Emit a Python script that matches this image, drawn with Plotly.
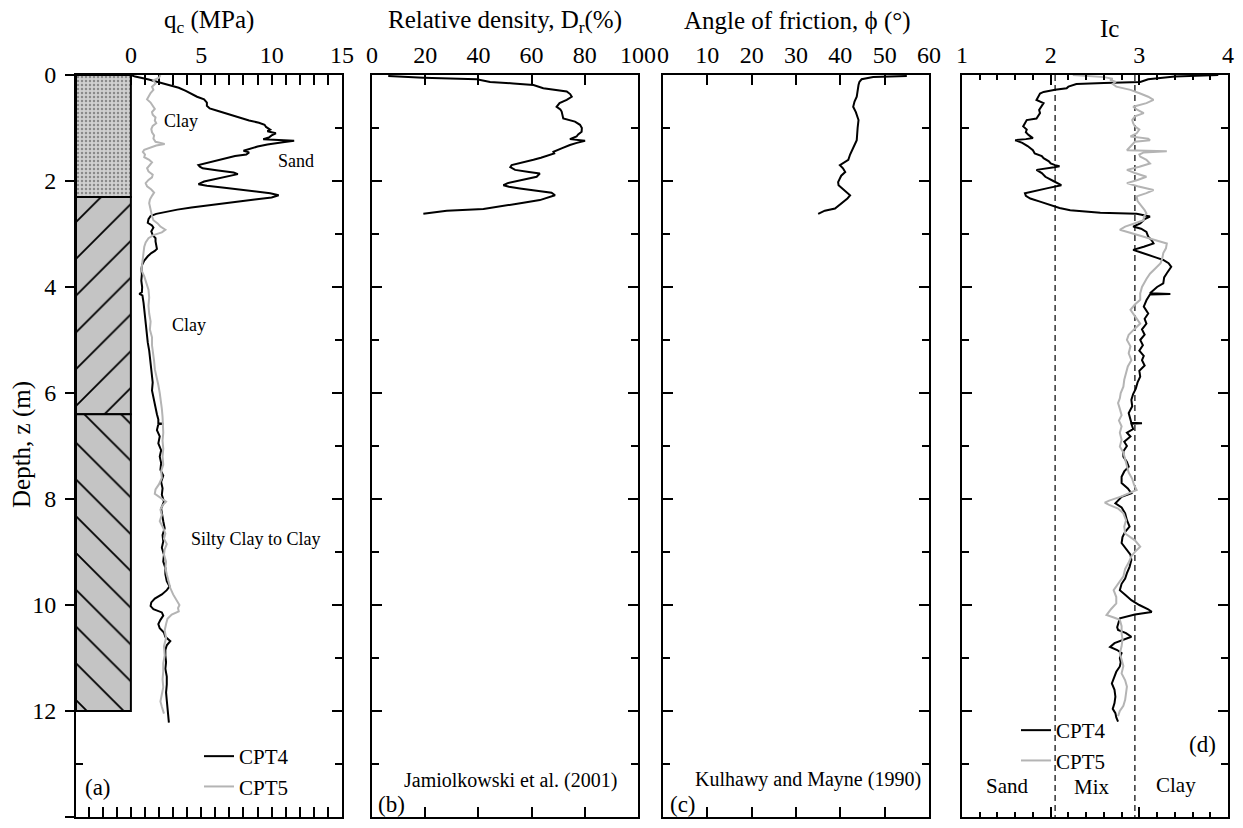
import plotly.graph_objects as go

# ---------------- data ----------------
# soil column (panel a)
layer_top = [0.0, 2.3, 6.4]
layer_bottom = [2.3, 6.4, 12.0]
layer_pattern = [".", "/", "\\"]

# panel a : cone resistance qc (MPa)
cpt4_qc_depth = [0.00, 0.03, 0.08, 0.13, 0.18, 0.24, 0.30, 0.36, 0.41, 0.46, 0.52, 0.58, 0.63, 0.68, 0.72, 0.77, 0.82, 0.86, 0.90, 0.94,
                 0.98, 1.03, 1.06, 1.10, 1.14, 1.18, 1.21, 1.23, 1.24, 1.27, 1.31, 1.35, 1.40, 1.43, 1.46, 1.50, 1.53, 1.57, 1.62, 1.67,
                 1.70, 1.73, 1.76, 1.80, 1.84, 1.87, 1.91, 1.96, 2.01, 2.06, 2.09, 2.13, 2.18, 2.23, 2.27, 2.31, 2.35, 2.40, 2.45, 2.50,
                 2.54, 2.58, 2.62, 2.66, 2.72, 2.79, 2.84, 2.88, 2.95, 3.02, 3.08, 3.14, 3.22, 3.28, 3.32, 3.36, 3.42, 3.50, 3.58, 3.66,
                 3.76, 3.88, 4.00, 4.10, 4.13, 4.16, 4.30, 4.45, 4.60, 4.75, 4.90, 5.05, 5.20, 5.35, 5.50, 5.65, 5.80, 5.95, 6.10, 6.25,
                 6.40, 6.50, 6.57, 6.58, 6.59, 6.70, 6.82, 6.95, 7.08, 7.20, 7.32, 7.45, 7.56, 7.68, 7.80, 7.92, 8.05, 8.18, 8.30, 8.42,
                 8.55, 8.68, 8.80, 8.92, 9.05, 9.18, 9.30, 9.42, 9.55, 9.65, 9.72, 9.80, 9.88, 9.95, 10.02, 10.08, 10.14, 10.20, 10.28, 10.36,
                 10.44, 10.52, 10.60, 10.68, 10.76, 10.85, 10.95, 11.08, 11.20, 11.35, 11.50, 11.65, 11.80, 11.95, 12.10, 12.22]
cpt4_qc = [0.0, 0.3, 1.2, 1.9, 2.6, 3.4, 3.9, 4.3, 4.7, 5.2, 5.4, 5.4, 5.6, 6.2, 6.7, 7.3, 7.8, 8.4, 9.1, 9.5,
           9.6, 9.9, 9.7, 10.3, 10.0, 9.8, 9.4, 10.5, 11.6, 10.8, 9.7, 9.0, 8.4, 8.0, 8.4, 8.2, 7.4, 6.8, 6.0, 5.2,
           4.8, 4.9, 5.1, 6.2, 7.3, 7.6, 6.9, 6.0, 5.2, 4.8, 5.4, 6.8, 8.6, 9.9, 10.5, 10.0, 8.8, 7.2, 5.8, 4.3,
           3.3, 2.6, 1.8, 1.4, 1.25, 1.2, 1.5, 1.6, 1.45, 1.55, 1.75, 1.75, 1.8, 1.85, 1.7, 1.45, 1.2, 0.95, 0.8, 0.75,
           0.78, 0.74, 0.8, 0.78, 0.6, 0.82, 0.9, 0.95, 1.0, 1.05, 1.15, 1.2, 1.3, 1.35, 1.45, 1.45, 1.55, 1.5, 1.6, 1.7,
           1.85, 1.95, 1.95, 2.3, 1.95, 1.85, 2.05, 1.95, 2.15, 2.05, 2.15, 2.1, 2.3, 2.15, 2.25, 2.2, 2.35, 2.15, 2.25, 2.3,
           2.4, 2.25, 2.3, 2.2, 2.35, 2.3, 2.45, 2.45, 2.55, 2.75, 2.55, 2.2, 1.7, 1.45, 1.4, 1.6, 2.2, 2.3, 2.1, 1.95,
           2.05, 2.35, 2.45, 2.8, 2.55, 2.45, 2.45, 2.5, 2.45, 2.55, 2.55, 2.5, 2.55, 2.6, 2.65, 2.7]

cpt5_qc_depth = [0.00, 0.05, 0.10, 0.16, 0.22, 0.28, 0.34, 0.40, 0.46, 0.52, 0.58, 0.64, 0.70, 0.75, 0.80, 0.86, 0.91, 0.96, 1.02, 1.08,
                 1.14, 1.20, 1.26, 1.30, 1.33, 1.37, 1.41, 1.45, 1.50, 1.55, 1.60, 1.65, 1.70, 1.76, 1.82, 1.88, 1.93, 1.98, 2.04, 2.10,
                 2.16, 2.22, 2.28, 2.35, 2.42, 2.50, 2.58, 2.66, 2.74, 2.80, 2.86, 2.92, 2.97, 3.02, 3.08, 3.16, 3.24, 3.35, 3.45, 3.56,
                 3.68, 3.80, 3.92, 4.05, 4.20, 4.35, 4.50, 4.65, 4.80, 4.95, 5.10, 5.25, 5.40, 5.55, 5.70, 5.85, 6.00, 6.15, 6.30, 6.45,
                 6.60, 6.75, 6.90, 7.05, 7.20, 7.35, 7.48, 7.60, 7.72, 7.82, 7.90, 7.97, 8.05, 8.12, 8.20, 8.30, 8.42, 8.55, 8.65, 8.75,
                 8.85, 8.95, 9.05, 9.18, 9.30, 9.42, 9.55, 9.68, 9.80, 9.90, 10.00, 10.06, 10.12, 10.18, 10.26, 10.36, 10.48, 10.62, 10.78, 10.95,
                 11.10, 11.25, 11.40, 11.55, 11.70, 11.82, 11.92, 12.05]
cpt5_qc = [2.1, 2.0, 1.6, 1.75, 1.5, 1.6, 1.4, 1.3, 1.15, 1.4, 1.55, 1.7, 1.5, 1.55, 1.75, 1.7, 1.8, 1.55, 1.45, 1.5,
           1.65, 1.6, 1.75, 2.4, 1.8, 1.3, 0.95, 0.85, 1.0, 0.95, 1.3, 1.5, 1.35, 1.15, 1.25, 1.55, 1.5, 1.25, 1.05, 1.15,
           1.45, 1.65, 1.5, 1.35, 1.3, 1.35, 1.45, 1.5, 1.6, 1.9, 2.1, 2.45, 2.2, 1.6, 1.25, 1.05, 0.95, 0.9, 0.85, 0.8,
           0.75, 0.95, 1.1, 1.25, 1.3, 1.25, 1.3, 1.4, 1.35, 1.5, 1.5, 1.6, 1.65, 1.7, 1.85, 1.95, 2.05, 2.15, 2.2, 2.25,
           2.3, 2.3, 2.25, 2.3, 2.25, 2.3, 2.15, 2.2, 2.0, 1.75, 1.7, 2.05, 2.5, 2.25, 2.1, 2.2, 2.05, 2.3, 2.45, 2.35,
           2.55, 2.4, 2.35, 2.5, 2.45, 2.55, 2.65, 2.8, 3.0, 3.2, 3.45, 3.35, 3.4, 2.9, 2.6, 2.5, 2.4, 2.5, 2.35, 2.4,
           2.3, 2.3, 2.25, 2.3, 2.2, 2.1, 2.2, 2.35]

# panel b : relative density Dr (%)
dr_depth = [0.02, 0.05, 0.08, 0.13, 0.16, 0.19, 0.25, 0.28, 0.31, 0.36, 0.41, 0.47, 0.53, 0.60, 0.65, 0.69, 0.76, 0.82, 0.88, 0.94,
            1.00, 1.07, 1.12, 1.16, 1.21, 1.24, 1.28, 1.32, 1.38, 1.45, 1.48, 1.51, 1.56, 1.60, 1.65, 1.70, 1.74, 1.79, 1.83, 1.86,
            1.92, 1.98, 2.04, 2.08, 2.11, 2.14, 2.18, 2.22, 2.27, 2.31, 2.36, 2.41, 2.46, 2.53, 2.56, 2.62]
dr_values = [6.1, 19.3, 39.4, 44.4, 53.1, 60.7, 64.4, 69.4, 73.2, 74.5, 75.1, 73.2, 70.5, 69.4, 70.8, 71.3, 71.5, 71.9, 76.3, 78.2,
             78.9, 78.8, 77.5, 76.9, 74.4, 80.1, 77.0, 74.4, 71.5, 68.2, 68.5, 66.9, 63.5, 60.7, 56.5, 52.5, 52.0, 53.8, 59.0, 63.1,
             61.9, 56.0, 51.0, 49.4, 51.5, 55.6, 62.0, 67.5, 68.8, 66.5, 63.1, 56.9, 50.0, 41.9, 28.1, 19.3]

# panel c : friction angle (deg)
phi_depth = [0.02, 0.04, 0.08, 0.13, 0.19, 0.30, 0.41, 0.50, 0.60, 0.70, 0.85, 1.00, 1.12, 1.23, 1.32, 1.42, 1.50, 1.60, 1.66, 1.70,
             1.76, 1.83, 1.90, 1.95, 2.02, 2.08, 2.14, 2.20, 2.27, 2.33, 2.39, 2.46, 2.52, 2.56, 2.62]
phi_values = [55.0, 47.4, 44.8, 44.3, 44.1, 43.9, 43.7, 43.2, 42.9, 43.5, 44.1, 43.9, 43.8, 43.7, 43.2, 42.6, 42.2, 41.8, 40.8, 39.9,
              40.6, 41.1, 40.2, 39.9, 39.5, 39.6, 40.5, 41.4, 42.2, 41.6, 40.7, 39.7, 38.8, 36.5, 35.0]

# panel d : soil behaviour type index Ic
cpt4_ic_depth = [0.00, 0.03, 0.08, 0.13, 0.15, 0.17, 0.22, 0.25, 0.28, 0.32, 0.35, 0.41, 0.47, 0.53, 0.60, 0.66, 0.72, 0.78, 0.82, 0.85,
                 0.91, 0.97, 1.03, 1.08, 1.13, 1.19, 1.21, 1.23, 1.28, 1.34, 1.42, 1.48, 1.53, 1.57, 1.63, 1.67, 1.70, 1.72, 1.74, 1.79,
                 1.85, 1.92, 2.00, 2.08, 2.13, 2.17, 2.23, 2.28, 2.33, 2.39, 2.45, 2.51, 2.55, 2.58, 2.60, 2.62, 2.67, 2.72, 2.80, 2.86,
                 2.90, 2.96, 3.05, 3.12, 3.18, 3.24, 3.30, 3.35, 3.40, 3.45, 3.49, 3.55, 3.62, 3.68, 3.74, 3.82, 3.93, 4.00, 4.06, 4.12,
                 4.13, 4.14, 4.25, 4.37, 4.50, 4.60, 4.69, 4.80, 4.90, 5.00, 5.10, 5.20, 5.30, 5.38, 5.48, 5.58, 5.69, 5.80, 5.92, 6.02,
                 6.13, 6.25, 6.38, 6.50, 6.56, 6.57, 6.58, 6.68, 6.75, 6.82, 6.92, 7.00, 7.10, 7.20, 7.30, 7.39, 7.48, 7.58, 7.70, 7.80,
                 7.89, 7.96, 8.02, 8.08, 8.16, 8.27, 8.40, 8.52, 8.62, 8.72, 8.83, 8.95, 9.05, 9.15, 9.28, 9.40, 9.50, 9.60, 9.72, 9.82,
                 9.91, 10.00, 10.08, 10.13, 10.18, 10.25, 10.35, 10.42, 10.47, 10.53, 10.60, 10.66, 10.72, 10.79, 10.85, 10.91, 11.00, 11.08, 11.16, 11.26,
                 11.36, 11.48, 11.60, 11.73, 11.85, 11.96, 12.04, 12.12, 12.20]
cpt4_ic = [3.89, 3.40, 3.10, 3.01, 2.60, 2.29, 2.20, 2.18, 2.05, 1.92, 1.88, 1.86, 1.84, 1.92, 1.89, 1.87, 1.88, 1.86, 1.84, 1.73,
           1.71, 1.69, 1.73, 1.72, 1.75, 1.80, 1.72, 1.60, 1.68, 1.74, 1.80, 1.82, 1.90, 1.92, 1.98, 2.00, 2.05, 2.10, 2.04, 1.84,
           1.90, 1.94, 2.03, 2.12, 1.98, 1.86, 1.71, 1.72, 1.77, 1.88, 1.99, 2.10, 2.22, 2.40, 2.56, 2.97, 3.12, 3.06, 3.01, 2.93,
           3.02, 3.08, 3.10, 3.14, 3.16, 3.05, 2.93, 3.02, 3.12, 3.20, 3.27, 3.33, 3.36, 3.33, 3.31, 3.28, 3.27, 3.20, 3.16, 3.12,
           3.35, 3.12, 3.08, 3.05, 3.10, 3.06, 3.08, 3.03, 3.06, 3.01, 3.04, 3.00, 3.05, 3.03, 3.06, 3.00, 3.01, 2.98, 2.96, 2.93,
           2.91, 2.92, 2.88, 2.90, 2.91, 3.03, 2.91, 2.93, 2.86, 2.90, 2.83, 2.86, 2.82, 2.82, 2.86, 2.88, 2.83, 2.80, 2.80, 2.87,
           2.91, 2.80, 2.76, 2.73, 2.80, 2.84, 2.86, 2.89, 2.84, 2.81, 2.80, 2.86, 2.90, 2.91, 2.89, 2.86, 2.84, 2.80, 2.78, 2.85,
           2.91, 3.00, 3.10, 3.14, 2.95, 2.78, 2.76, 2.75, 2.76, 2.85, 2.91, 2.82, 2.72, 2.67, 2.75, 2.80, 2.78, 2.79, 2.78, 2.74,
           2.72, 2.69, 2.72, 2.73, 2.72, 2.70, 2.73, 2.74, 2.76]

cpt5_ic_depth = [0.00, 0.02, 0.04, 0.07, 0.09, 0.13, 0.17, 0.22, 0.28, 0.35, 0.41, 0.47, 0.53, 0.60, 0.66, 0.72, 0.78, 0.85, 0.91, 0.97,
                 1.03, 1.10, 1.16, 1.20, 1.23, 1.26, 1.32, 1.38, 1.42, 1.44, 1.46, 1.50, 1.54, 1.60, 1.67, 1.73, 1.79, 1.85, 1.92, 1.98,
                 2.04, 2.10, 2.17, 2.23, 2.29, 2.38, 2.46, 2.55, 2.61, 2.67, 2.74, 2.80, 2.86, 2.92, 2.98, 3.05, 3.12, 3.18, 3.27, 3.36,
                 3.45, 3.55, 3.65, 3.75, 3.85, 3.93, 4.00, 4.12, 4.24, 4.33, 4.43, 4.55, 4.69, 4.80, 4.90, 5.00, 5.12, 5.25, 5.38, 5.50,
                 5.62, 5.75, 5.88, 6.00, 6.10, 6.19, 6.30, 6.42, 6.52, 6.63, 6.75, 6.88, 7.01, 7.12, 7.25, 7.39, 7.50, 7.62, 7.73, 7.83,
                 7.95, 8.03, 8.07, 8.11, 8.18, 8.27, 8.40, 8.52, 8.65, 8.78, 8.90, 8.98, 9.08, 9.20, 9.32, 9.46, 9.60, 9.72, 9.85, 9.97,
                 10.08, 10.19, 10.24, 10.28, 10.40, 10.53, 10.65, 10.78, 10.91, 11.03, 11.15, 11.29, 11.42, 11.54, 11.66, 11.79, 11.90, 12.00, 12.10]
cpt5_ic = [2.25, 2.45, 2.60, 2.70, 2.67, 2.73, 2.70, 2.74, 2.90, 3.01, 3.10, 3.16, 3.08, 2.93, 2.98, 3.05, 2.95, 2.92, 2.93, 2.95,
           3.00, 2.97, 2.90, 3.10, 3.12, 2.95, 2.92, 2.88, 2.86, 3.31, 3.05, 3.00, 3.01, 3.08, 3.12, 3.00, 2.86, 2.95, 3.08, 2.98,
           2.86, 2.98, 3.16, 3.08, 2.97, 2.98, 3.02, 3.06, 3.08, 3.05, 3.05, 2.95, 2.84, 2.78, 2.90, 3.05, 3.20, 3.31, 3.30, 3.27,
           3.26, 3.24, 3.18, 3.12, 3.08, 3.05, 3.03, 3.01, 3.01, 2.95, 2.90, 2.95, 3.01, 2.94, 2.88, 2.86, 2.90, 2.88, 2.91, 2.87,
           2.85, 2.83, 2.82, 2.79, 2.78, 2.76, 2.78, 2.80, 2.77, 2.80, 2.78, 2.80, 2.78, 2.82, 2.84, 2.86, 2.88, 2.92, 2.94, 2.97,
           2.80, 2.66, 2.61, 2.66, 2.76, 2.82, 2.85, 2.83, 2.84, 2.95, 3.01, 2.96, 2.91, 2.88, 2.84, 2.82, 2.76, 2.71, 2.74, 2.74,
           2.68, 2.63, 2.72, 2.78, 2.80, 2.80, 2.81, 2.80, 2.78, 2.80, 2.82, 2.80, 2.84, 2.86, 2.85, 2.84, 2.82, 2.78, 2.76]

ic_boundaries = [2.05, 2.95]
depth_range = [0, 14]

# ---------------- styling ----------------
W, H = 1243, 828
FONT = "Liberation Serif, Times New Roman, serif"
BLACK = "black"
GREY = "#b4b4b4"


def px2x(px):
    return px / W


def px2y(py):
    return 1 - py / H


ydom = [px2y(817), px2y(75)]
xdoms = [[px2x(76), px2x(342)], [px2x(372), px2x(638)], [px2x(663), px2x(929)], [px2x(962), px2x(1228)]]

fig = go.Figure()

# soil column (panel a)
col_left, col_right = -3.9, 0.0
fig.add_trace(go.Bar(
    x=[(col_left + col_right) / 2] * len(layer_top),
    y=[b - t for t, b in zip(layer_top, layer_bottom)],
    base=layer_top,
    width=[col_right - col_left] * len(layer_top),
    marker=dict(
        color="#c4c4c4",
        line=dict(color=BLACK, width=2),
        pattern=dict(shape=layer_pattern,
                     bgcolor=["#d0d0d0", "#c4c4c4", "#c4c4c4"],
                     fgcolor=["#8a8a8a", BLACK, BLACK],
                     size=[4, 26, 26],
                     solidity=[0.3, 0.07, 0.07],
                     fillmode="replace"),
    ),
    xaxis="x", yaxis="y", showlegend=False, hoverinfo="skip",
))

line_w = 2
fig.add_trace(go.Scatter(x=cpt4_qc, y=cpt4_qc_depth, mode="lines", name="CPT4",
                         line=dict(color=BLACK, width=line_w), xaxis="x", yaxis="y", legend="legend"))
fig.add_trace(go.Scatter(x=cpt5_qc, y=cpt5_qc_depth, mode="lines", name="CPT5",
                         line=dict(color=GREY, width=line_w), xaxis="x", yaxis="y", legend="legend"))
# dummy for label axis of panel a
fig.add_trace(go.Scatter(x=[None], y=[None], xaxis="x", yaxis="y5", showlegend=False, hoverinfo="skip"))

fig.add_trace(go.Scatter(x=dr_values, y=dr_depth, mode="lines", line=dict(color=BLACK, width=line_w),
                         xaxis="x2", yaxis="y2", showlegend=False))
fig.add_trace(go.Scatter(x=phi_values, y=phi_depth, mode="lines", line=dict(color=BLACK, width=line_w),
                         xaxis="x3", yaxis="y3", showlegend=False))

for b in ic_boundaries:
    fig.add_trace(go.Scatter(x=[b, b], y=depth_range, mode="lines",
                             line=dict(color=BLACK, width=1.2, dash="6px,4px"),
                             xaxis="x4", yaxis="y4", showlegend=False, hoverinfo="skip"))
fig.add_trace(go.Scatter(x=cpt4_ic, y=cpt4_ic_depth, mode="lines", name="CPT4",
                         line=dict(color=BLACK, width=line_w), xaxis="x4", yaxis="y4", legend="legend2"))
fig.add_trace(go.Scatter(x=cpt5_ic, y=cpt5_ic_depth, mode="lines", name="CPT5",
                         line=dict(color=GREY, width=line_w), xaxis="x4", yaxis="y4", legend="legend2"))

tickfont = dict(family=FONT, size=24, color=BLACK)


def xaxis(dom, rng, dtick, minor_dtick, yname, layer="above traces"):
    d = dict(domain=dom, range=rng, anchor=yname, side="top", tickmode="linear", tick0=0, dtick=dtick,
             ticks="inside", ticklen=10, tickwidth=2, tickcolor=BLACK, mirror="allticks",
             showline=True, linewidth=2, linecolor=BLACK, showgrid=False, zeroline=False,
             tickfont=tickfont, ticklabelstandoff=0, layer=layer, fixedrange=True, automargin=False)
    if minor_dtick:
        d["minor"] = dict(dtick=minor_dtick, tick0=0, ticks="inside", ticklen=5, tickwidth=2,
                          tickcolor=BLACK, showgrid=False)
    return d


def yaxis(xname, layer="above traces"):
    return dict(domain=ydom, range=[14, 0], anchor=xname, tickmode="linear", tick0=0, dtick=2,
                ticks="inside", ticklen=10, tickwidth=2, tickcolor=BLACK, mirror="allticks",
                showline=True, linewidth=2, linecolor=BLACK, showgrid=False, zeroline=False,
                showticklabels=False, layer=layer, fixedrange=True, automargin=False,
                minor=dict(dtick=1, tick0=0, ticks="inside", ticklen=7, tickwidth=2,
                           tickcolor=BLACK, showgrid=False))


fig.update_layout(
    width=W, height=H, margin=dict(l=0, r=0, t=0, b=0, pad=0, autoexpand=False),
    paper_bgcolor="white", plot_bgcolor="white",
    font=dict(family=FONT, color=BLACK),
    barmode="overlay",
    xaxis=xaxis(xdoms[0], [col_left, 15], 5, 1, "y", layer="below traces"),
    xaxis2=xaxis(xdoms[1], [0, 100], 20, None, "y2"),
    xaxis3=xaxis(xdoms[2], [0, 60], 10, None, "y3"),
    xaxis4=xaxis(xdoms[3], [1, 4], 1, 0.2, "y4"),
    yaxis=yaxis("x", layer="below traces"),
    yaxis2=yaxis("x2"),
    yaxis3=yaxis("x3"),
    yaxis4=yaxis("x4"),
    yaxis5=dict(overlaying="y", anchor="x", side="left", range=[14, 0], tickmode="linear", tick0=0, dtick=2,
                ticks="outside", ticklen=10, tickwidth=2, tickcolor=BLACK, showline=False, showgrid=False,
                zeroline=False, tickfont=tickfont, ticklabelstandoff=4, fixedrange=True, automargin=False),
    legend=dict(x=px2x(199), y=px2y(736), xanchor="left", yanchor="top", bgcolor="rgba(0,0,0,0)",
                font=dict(family=FONT, size=21, color=BLACK), tracegroupgap=0),
    legend2=dict(x=px2x(1016), y=px2y(710), xanchor="left", yanchor="top", bgcolor="rgba(0,0,0,0)",
                 font=dict(family=FONT, size=21, color=BLACK), tracegroupgap=0),
    showlegend=True,
)

ann = []


def paper_text(text, px, py, size, angle=0):
    ann.append(dict(text=text, x=px2x(px), y=px2y(py), xref="paper", yref="paper", showarrow=False,
                    xanchor="center", yanchor="middle", textangle=angle,
                    font=dict(family=FONT, size=size, color=BLACK)))


def data_text(text, x, y, xr, yr, size):
    ann.append(dict(text=text, x=x, y=y, xref=xr, yref=yr, showarrow=False, xanchor="center",
                    yanchor="middle", font=dict(family=FONT, size=size, color=BLACK)))


# axis titles
paper_text("q<sub>c</sub> (MPa)", 209, 21, 25)
paper_text("Relative density, D<sub>r</sub>(%)", 505, 21, 25)
paper_text("Angle of friction, ϕ (°)", 797, 21, 25)
paper_text("Ic", 1109, 28, 25)
paper_text("Depth, z (m)", 22, 445, 25, angle=-90)

# panel a soil labels
data_text("Clay", 3.55, 0.87, "x", "y", 18)
data_text("Sand", 11.7, 1.62, "x", "y", 18)
data_text("Clay", 4.1, 4.72, "x", "y", 18)
data_text("Silty Clay to Clay", 8.87, 8.75, "x", "y", 18)

# panel letters and references
paper_text("(a)", 98, 787, 23)
paper_text("(b)", 391, 804, 23)
paper_text("(c)", 683, 804, 23)
paper_text("(d)", 1202, 744, 23)
paper_text("Jamiolkowski et al. (2001)", 511, 780, 20)
paper_text("Kulhawy and Mayne (1990)", 808, 779, 20)
paper_text("Sand", 1007, 786, 21)
paper_text("Mix", 1092, 787, 21)
paper_text("Clay", 1176, 785, 21)

fig.update_layout(annotations=ann)

fig.write_html("out.html", config={"displayModeBar": False},
               post_script="document.body.style.margin='0px'; document.documentElement.style.margin='0px';")
